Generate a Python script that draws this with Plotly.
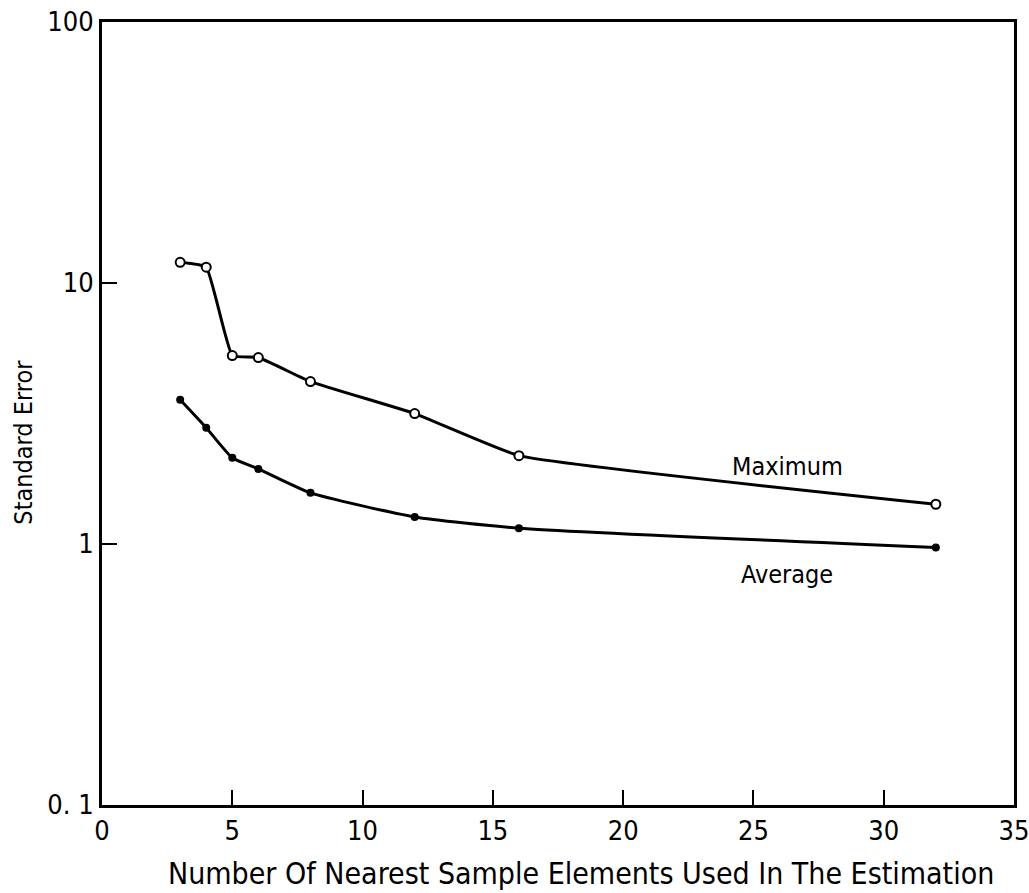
import plotly.graph_objects as go

x_vals = [3, 4, 5, 6, 8, 12, 16, 32]
maximum = [12.0, 11.5, 5.27, 5.18, 4.19, 3.16, 2.18, 1.42]
average = [3.57, 2.79, 2.14, 1.94, 1.57, 1.27, 1.15, 0.97]
x_ticks = [0, 5, 10, 15, 20, 25, 30, 35]
y_ticks = [0.1, 1, 10, 100]
y_tick_text = ["0. 1", "1", "10", "100"]

FONT = "Liberation Sans Narrow, DejaVu Sans Condensed, Arial Narrow, sans-serif"

fig = go.Figure()
fig.add_trace(go.Scatter(
    x=x_vals, y=maximum, mode="lines+markers",
    line=dict(color="black", width=3, shape="spline", smoothing=0.35),
    marker=dict(symbol="circle", size=9, color="white", line=dict(color="black", width=2)),
    showlegend=False,
))
fig.add_trace(go.Scatter(
    x=x_vals, y=average, mode="lines+markers",
    line=dict(color="black", width=3, shape="spline", smoothing=0.5),
    marker=dict(symbol="circle", size=8, color="black"),
    showlegend=False,
))

fig.add_annotation(x=26.3, y=0.296, yref="y", text="Maximum", showarrow=False,
                   font=dict(size=25, color="black", family=FONT))
fig.add_annotation(x=26.3, y=-0.115, yref="y", text="Average", showarrow=False,
                   font=dict(size=25, color="black", family=FONT))

# axis titles (placed as in the reference, slightly off-centre)
fig.add_annotation(x=18.4, xref="x", y=-0.088, yref="paper",
                   text="Number Of Nearest Sample Elements Used In The Estimation",
                   showarrow=False, yanchor="middle",
                   font=dict(size=30, color="black", family=FONT))
fig.add_annotation(x=-0.087, xref="paper", y=0.4636, yref="paper",
                   text="Standard Error", textangle=-90, showarrow=False,
                   xanchor="center", yanchor="middle",
                   font=dict(size=25, color="black", family=FONT))

fig.update_layout(
    width=1029, height=893,
    margin=dict(l=102, r=15, t=22, b=88),
    paper_bgcolor="white", plot_bgcolor="white",
    font=dict(family=FONT, color="black", size=22),
    xaxis=dict(
        range=[0, 35], tickvals=x_ticks, ticks="inside", ticklen=15, tickwidth=1.5,
        tickcolor="black", showgrid=False, zeroline=False, showline=True,
        linecolor="black", linewidth=3, mirror=True, automargin=False,
        ticklabeloverflow="allow",
        tickfont=dict(size=27, family=FONT),
    ),
    yaxis=dict(
        type="log", range=[-1, 2], tickvals=y_ticks, ticktext=y_tick_text,
        ticks="inside", ticklen=15, tickwidth=1.5, tickcolor="black",
        showgrid=False, zeroline=False, showline=True,
        linecolor="black", linewidth=3, mirror=True, automargin=False,
        ticklabeloverflow="allow",
        tickfont=dict(size=27, family=FONT),
    ),
)

fig.write_html("out.html")
